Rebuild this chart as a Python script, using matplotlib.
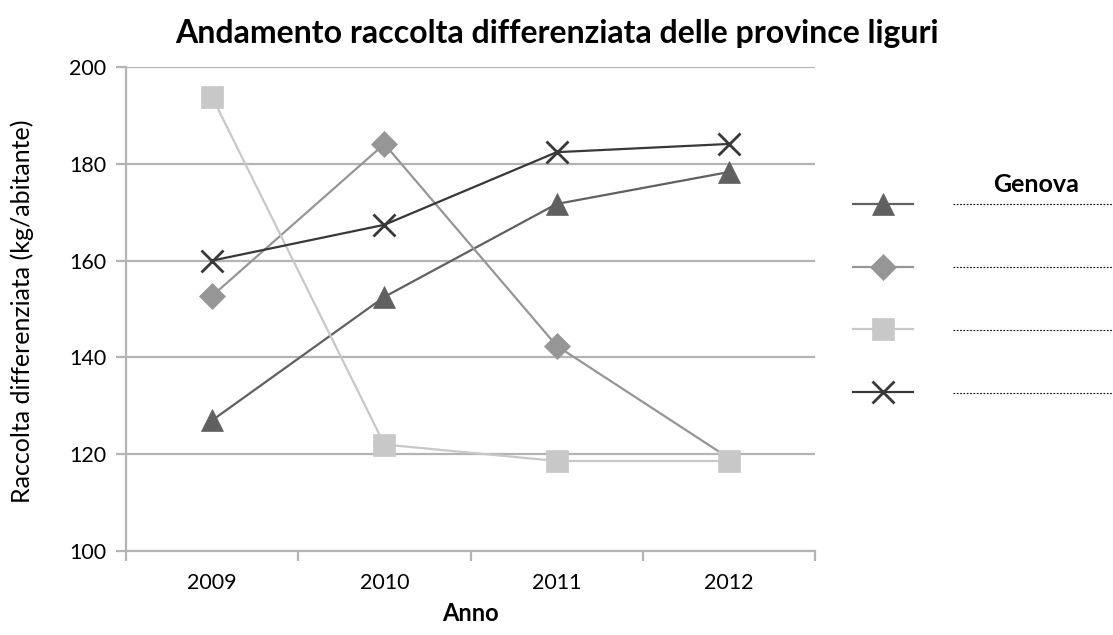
import matplotlib
matplotlib.use("Agg")
import matplotlib.pyplot as plt
from matplotlib.lines import Line2D

years = ["2009", "2010", "2011", "2012"]
serie_a = [127.0, 152.5, 171.7, 178.3]   # triangle
serie_b = [152.7, 184.1, 142.4, 119.2]   # diamond
serie_c = [193.8, 122.0, 118.6, 118.6]   # square
serie_d = [160.0, 167.4, 182.4, 184.1]   # cross
yticks = [100, 120, 140, 160, 180, 200]

plt.rcParams['font.family'] = ['Lato', 'DejaVu Sans']

W, H = 1113, 635
fig = plt.figure(figsize=(W/100, H/100), dpi=100)
ax = fig.add_axes([126/W, 1-551/H, (815-126)/W, (551-67)/H])

x = list(range(len(years)))
styles = [
    (serie_a, '#606060', '^', 16, 0.5, None),
    (serie_b, '#969696', 'D', 13, 0.5, [0, 1, 2]),  # last marker hidden under square
    (serie_c, '#c8c8c8', 's', 16.5, 0.5, None),
    (serie_d, '#383838', 'x', 16, 2.0, None),
]
handles = []
for vals, col, mk, ms, mew, me in styles:
    ln, = ax.plot(x, vals, color=col, marker=mk, markersize=ms, linewidth=1.6,
                  markerfacecolor=col, markeredgecolor=col,
                  markeredgewidth=mew, markevery=me, zorder=3)
    handles.append(ln)

ax.set_ylim(100, 200)
ax.set_xlim(-0.5, 3.5)
ax.set_yticks(yticks)
ax.set_yticklabels([str(v) for v in yticks], fontsize=15.5)
ax.yaxis.grid(True, color='#b4b4b4', linewidth=1.6)
ax.set_axisbelow(True)

ax.set_xticks([-0.5, 0.5, 1.5, 2.5, 3.5])
ax.set_xticklabels([])
ax.set_xticks(x, minor=True)
ax.set_xticklabels(years, minor=True, fontsize=15.5)
ax.tick_params(axis='x', which='major', length=7, width=1.6, color='#b4b4b4', direction='out')
ax.tick_params(axis='x', which='minor', length=0, pad=16)
ax.tick_params(axis='y', length=7, width=1.6, color='#b4b4b4', direction='out', pad=7)

for s in ['top', 'right']:
    ax.spines[s].set_visible(False)
for s in ['left', 'bottom']:
    ax.spines[s].set_color('#b4b4b4')
    ax.spines[s].set_linewidth(1.6)

fig.text(22/W, 1-311/H, 'Raccolta differenziata (kg/abitante)', fontsize=18,
         rotation=90, ha='center', va='center')
ax.set_xlabel('Anno', fontsize=17, fontweight='bold')
ax.xaxis.set_label_coords(0.5, -(602-551)/484)
fig.text(0.5, 1-33/H, 'Andamento raccolta differenziata delle province liguri',
         fontsize=23, fontweight='bold', ha='center', va='center')

# Legend (labels lost in original; shown as dotted placeholders)
leg = fig.legend(handles, ['', '', '', ''], loc='upper left',
                 bbox_to_anchor=(845/W, 1-189/H), frameon=False,
                 handlelength=3.6, labelspacing=2.78, fontsize=12,
                 borderpad=0, handletextpad=0)
fig.text(1036/W, 1-184/H, 'Genova', fontsize=18, fontweight='bold',
         ha='center', va='center')
for yy in [204, 267, 330, 393]:
    fig.add_artist(Line2D([953/W, 1.0], [1-yy/H, 1-yy/H],
                          transform=fig.transFigure, color='black',
                          linestyle=(0, (1.5, 1.5)), linewidth=0.8))

fig.savefig('out.png', dpi=100)
